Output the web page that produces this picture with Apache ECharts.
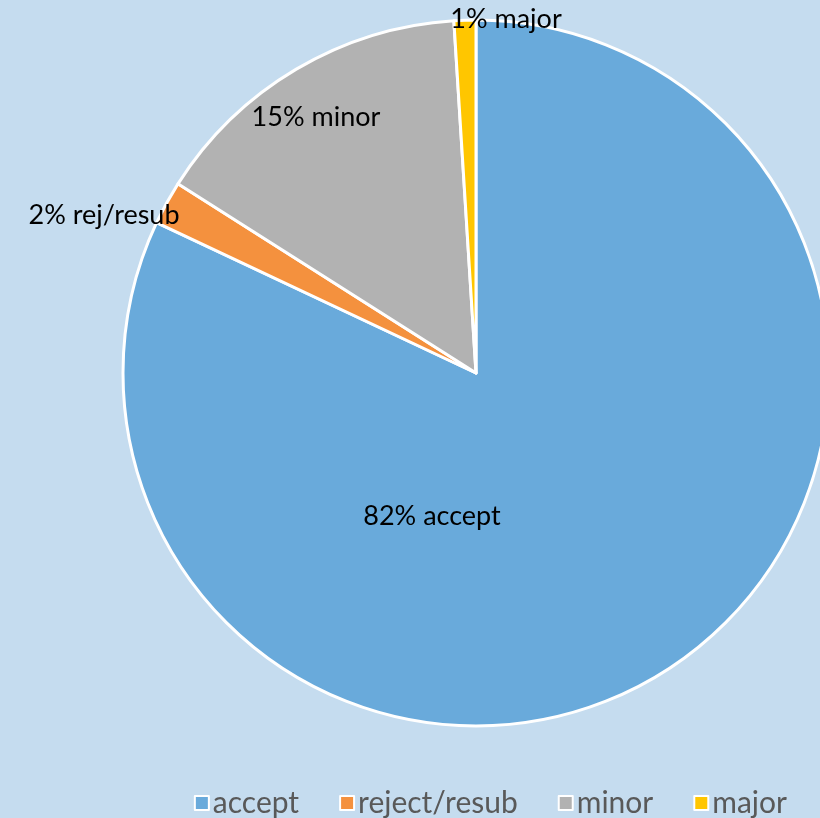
<!DOCTYPE html>
<html>
<head>
<meta charset="utf-8">
<script src="https://cdn.jsdelivr.net/npm/echarts@6/dist/echarts.min.js"></script>
<style>
  html, body { margin: 0; padding: 0; background: #C5DCEF; }
  #chart { width: 820px; height: 818px; }
</style>
</head>
<body>
<div id="chart"></div>
<script>
// slice data
var categories = ['accept', 'reject/resub', 'minor', 'major'];
var shortNames = ['accept', 'rej/resub', 'minor', 'major'];
var percents = [82, 2, 15, 1];
var colors = ['#69AADB', '#F4913E', '#B2B2B2', '#FFC600'];

// label spots, offset from pie centre in px
var labelSpots = [[-44, 143], [-372, -158], [-160, -256], [30, -354]];
var cx = 476, cy = 373;

var myChart = echarts.init(document.getElementById('chart'));
myChart.setOption({
  backgroundColor: '#C5DCEF',
  textStyle: { fontFamily: 'Lato' },
  legend: {
    data: categories,
    right: 28,
    top: 783,
    icon: 'rect',
    itemWidth: 14,
    itemHeight: 14,
    itemGap: 40,
    itemStyle: { borderColor: '#ffffff', borderWidth: 2 },
    textStyle: { fontSize: 30, color: '#595959', fontFamily: 'Lato', padding: [0, 0, 0, -1] }
  },
  series: [{
    type: 'pie',
    center: [cx, cy],
    radius: 353,
    startAngle: 90,
    clockwise: true,
    avoidLabelOverlap: false,
    itemStyle: { borderColor: '#ffffff', borderWidth: 3 },
    label: {
      show: true,
      position: 'inside',
      color: '#000000',
      fontSize: 27,
      fontFamily: 'Lato',
      formatter: function (p) {
        return percents[p.dataIndex] + '% ' + shortNames[p.dataIndex];
      }
    },
    labelLine: { show: false },
    labelLayout: function (p) {
      var s = labelSpots[p.dataIndex];
      return { x: cx + s[0], y: cy + s[1], align: 'center', verticalAlign: 'middle' };
    },
    emphasis: { disabled: true },
    data: categories.map(function (c, i) {
      return { name: c, value: percents[i], itemStyle: { color: colors[i] } };
    })
  }]
});
</script>
</body>
</html>
